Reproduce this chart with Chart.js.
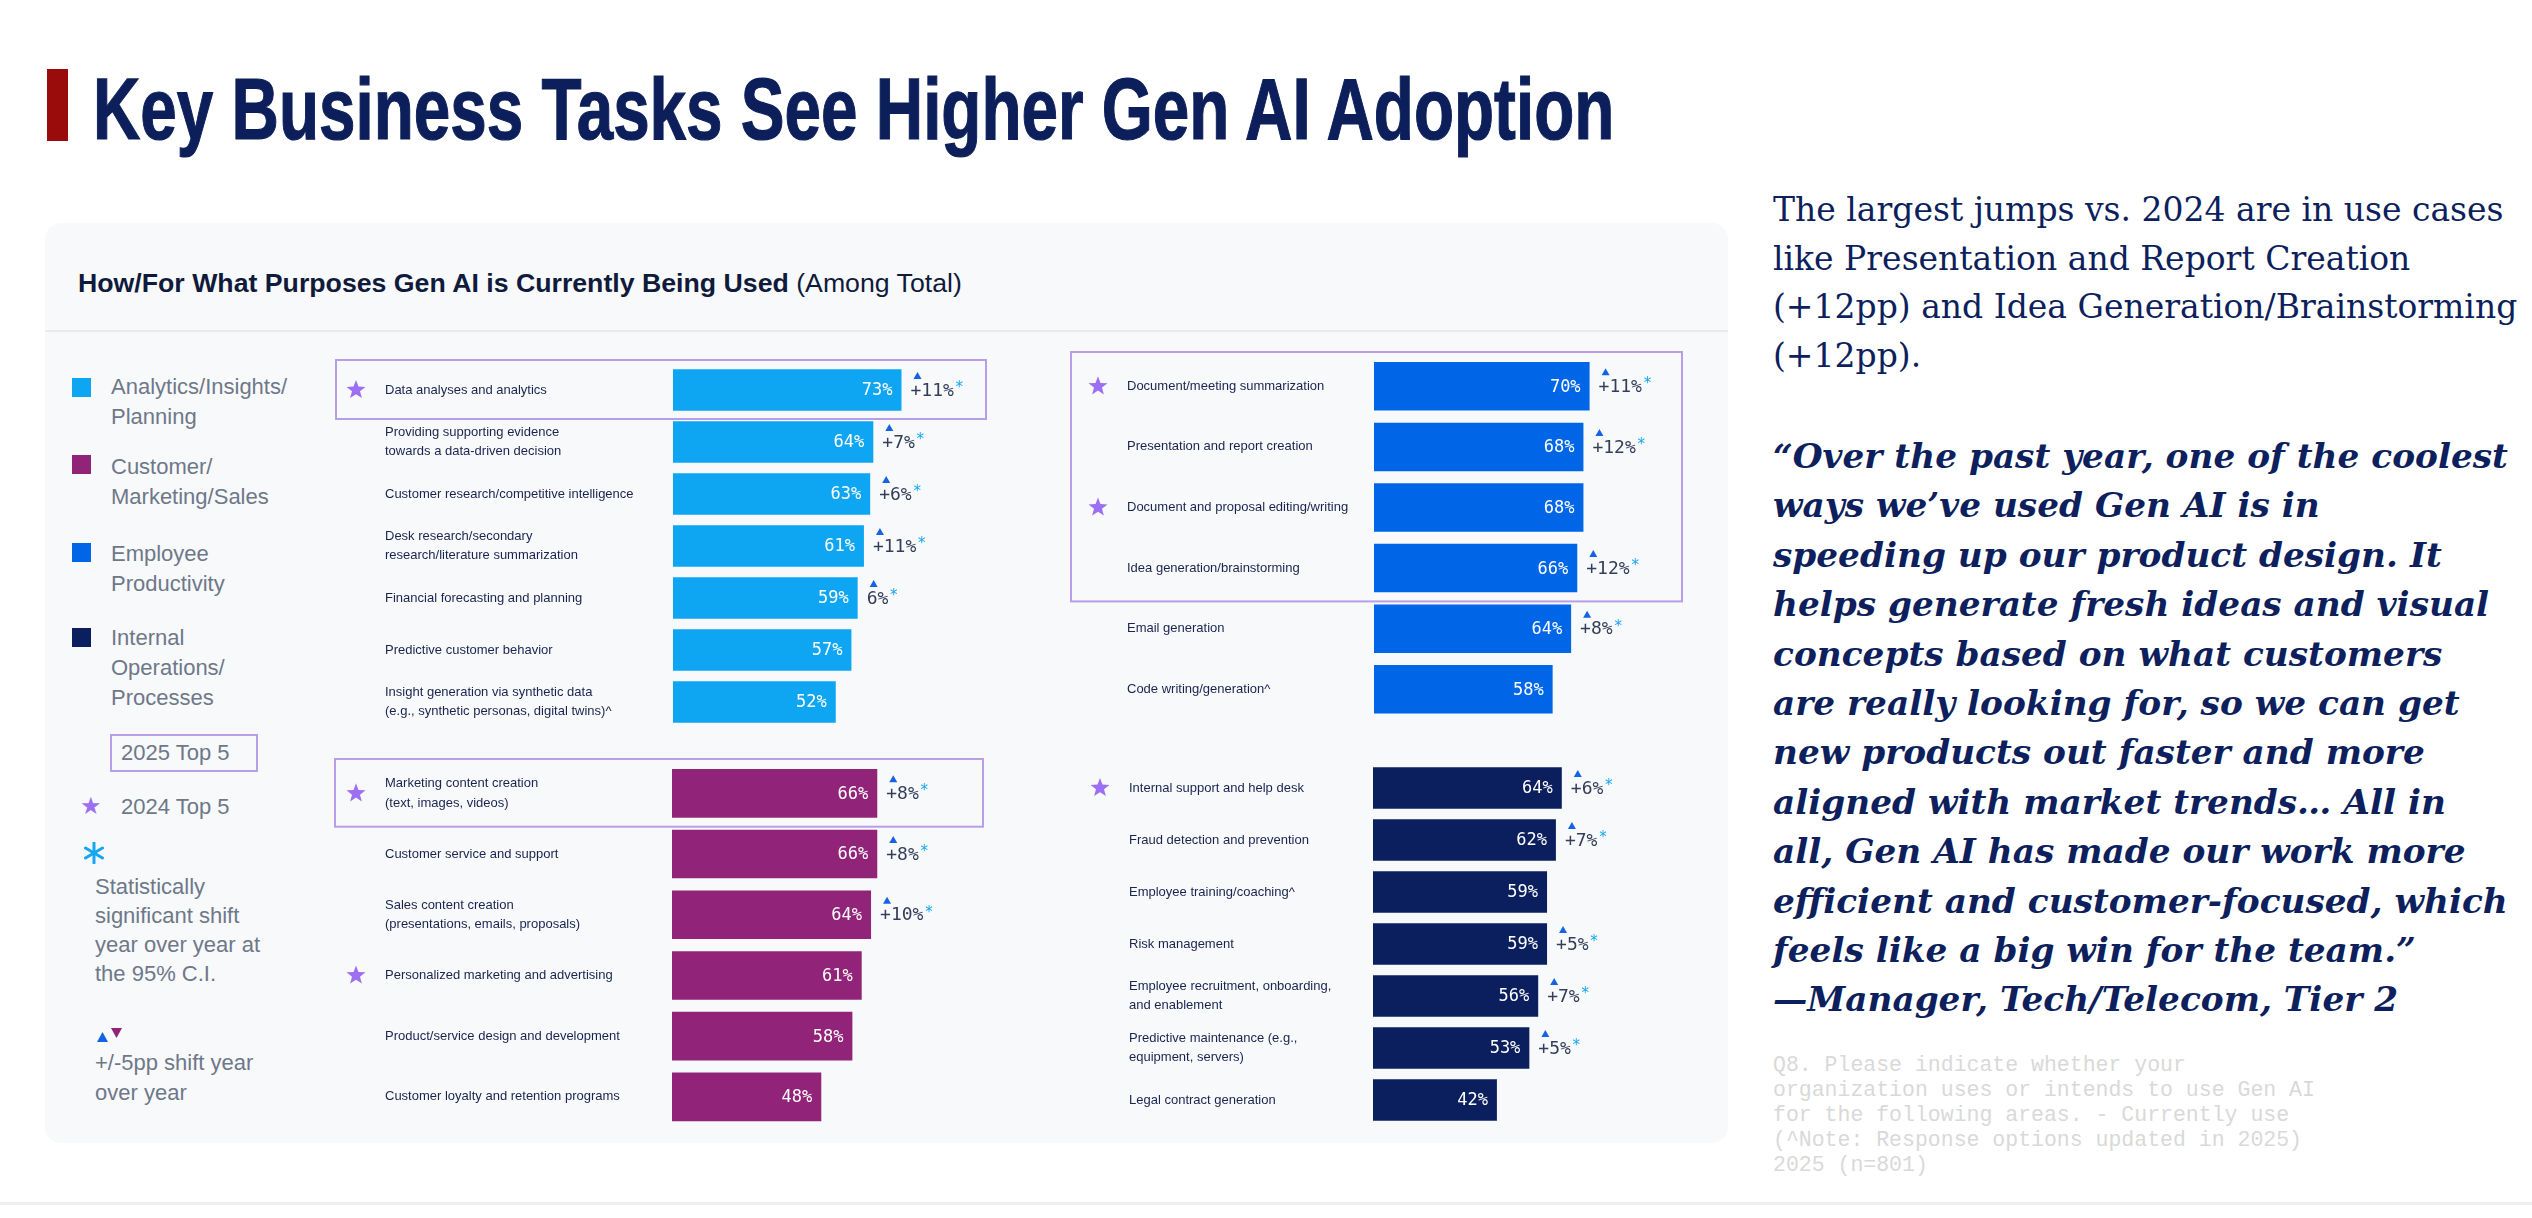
<!DOCTYPE html>
<html lang="en">
<head>
<meta charset="UTF-8">
<title>Key Business Tasks See Higher Gen AI Adoption</title>
<script src="https://cdn.jsdelivr.net/npm/chart.js"></script>
<style>
  html, body { margin: 0; padding: 0; background: #fff; }
  body { width: 2532px; height: 1218px; position: relative; overflow: hidden; font-family: "Liberation Sans", Arial, sans-serif; }
  .abs { position: absolute; }
  #titleBar { left: 47px; top: 69px; width: 21px; height: 72px; background: #9a0c0c; }
  #title { left: 93px; top: 65px; font-size: 87px; line-height: 87px; font-weight: bold; color: #0c1f5b; -webkit-text-stroke: 1.2px #0c1f5b; white-space: nowrap; transform: scaleX(0.754); transform-origin: 0 0; }
  #card { left: 45px; top: 223px; width: 1683px; height: 920px; background: #f8f9fb; border-radius: 16px; }
  #cardLine { left: 45px; top: 330px; width: 1683px; height: 2px; background: #e9eaee; }
  #cardTitle { left: 78px; top: 268px; font-size: 26.7px; line-height: 30px; color: #101b3b; white-space: nowrap; }
  #cardTitle b { font-weight: bold; }
  .sq { width: 19px; height: 19px; left: 72px; }
  .lg { font-size: 22px; line-height: 30px; color: #6e7889; white-space: nowrap; }
  #topBox { left: 110px; top: 734px; width: 144px; height: 34px; border: 2px solid #b89de9; }
  .chartBox { position: absolute; }
  #para { left: 1773px; top: 186px; font-family: "DejaVu Serif", serif; font-size: 33px; line-height: 48.5px; color: #0d1f5c; white-space: nowrap; }
  #quote { left: 1773px; top: 432px; font-family: "DejaVu Serif", serif; font-size: 34.3px; line-height: 49.4px; font-weight: bold; font-style: italic; color: #0d1f5c; white-space: nowrap; }
  #note { left: 1773px; top: 1053px; font-family: "Liberation Mono", monospace; font-size: 21.5px; line-height: 25px; color: #d9d9d9; white-space: nowrap; }
  #bottomLine { left: 0; top: 1202px; width: 2532px; height: 3px; background: #efefef; }
</style>
</head>
<body>
<div id="titleBar" class="abs"></div>
<div id="title" class="abs">Key Business Tasks See Higher Gen AI Adoption</div>

<div id="card" class="abs"></div>
<div id="cardLine" class="abs"></div>
<div id="cardTitle" class="abs"><b>How/For What Purposes Gen AI is Currently Being Used</b> (Among Total)</div>

<div class="abs sq" style="top:378px;background:#0ea5f2"></div>
<div class="abs lg" style="left:111px;top:372px">Analytics/Insights/<br>Planning</div>
<div class="abs sq" style="top:455px;background:#912478"></div>
<div class="abs lg" style="left:111px;top:452px">Customer/<br>Marketing/Sales</div>
<div class="abs sq" style="top:543px;background:#0066e8"></div>
<div class="abs lg" style="left:111px;top:539px">Employee<br>Productivity</div>
<div class="abs sq" style="top:628px;background:#0b1f5e"></div>
<div class="abs lg" style="left:111px;top:623px">Internal<br>Operations/<br>Processes</div>

<div id="topBox" class="abs"></div>
<div class="abs lg" style="left:121px;top:738px">2025 Top 5</div>
<div class="abs" style="left:80px;top:791px;font-family:'DejaVu Sans';font-size:24px;line-height:30px;color:#9d6ff2">★</div>
<div class="abs lg" style="left:121px;top:792px">2024 Top 5</div>
<svg class="abs" style="left:84px;top:842px" width="20" height="22" viewBox="0 0 20 22">
  <g stroke="#16a6f2" stroke-width="3" stroke-linecap="round">
    <line x1="10" y1="1" x2="10" y2="21"/>
    <line x1="1.5" y1="6" x2="18.5" y2="16"/>
    <line x1="1.5" y1="16" x2="18.5" y2="6"/>
  </g>
</svg>
<div class="abs lg" style="left:95px;top:872px;line-height:29px">Statistically<br>significant shift<br>year over year at<br>the 95% C.I.</div>
<svg class="abs" style="left:96px;top:1027px" width="28" height="16" viewBox="0 0 28 16">
  <polygon points="1,15 12,15 6.5,5" fill="#1463e6"/>
  <polygon points="15,1 26,1 20.5,11" fill="#912478"/>
</svg>
<div class="abs lg" style="left:95px;top:1048px">+/-5pp shift year<br>over year</div>

<div id="boxA" class="chartBox"><canvas id="chartA"></canvas></div>
<div id="boxB" class="chartBox"><canvas id="chartB"></canvas></div>
<div id="boxC" class="chartBox"><canvas id="chartC"></canvas></div>
<div id="boxD" class="chartBox"><canvas id="chartD"></canvas></div>

<div id="para" class="abs">The largest jumps vs. 2024 are in use cases<br>like Presentation and Report Creation<br>(+12pp) and Idea Generation/Brainstorming<br>(+12pp).</div>
<div id="quote" class="abs">“Over the past year, one of the coolest<br>ways we’ve used Gen AI is in<br>speeding up our product design. It<br>helps generate fresh ideas and visual<br>concepts based on what customers<br>are really looking for, so we can get<br>new products out faster and more<br>aligned with market trends… All in<br>all, Gen AI has made our work more<br>efficient and customer-focused, which<br>feels like a big win for the team.”<br>—Manager, Tech/Telecom, Tier 2</div>
<div id="note" class="abs">Q8. Please indicate whether your<br>organization uses or intends to use Gen AI<br>for the following areas. - Currently use<br>(^Note: Response options updated in 2025)<br>2025 (n=801)</div>
<div id="bottomLine" class="abs"></div>

<script>
// Analytics/Insights/Planning
const analyticsLabels = [
  'Data analyses and analytics',
  ['Providing supporting evidence', 'towards a data-driven decision'],
  'Customer research/competitive intelligence',
  ['Desk research/secondary', 'research/literature summarization'],
  'Financial forecasting and planning',
  'Predictive customer behavior',
  ['Insight generation via synthetic data', '(e.g., synthetic personas, digital twins)^']
];
const analyticsValues = [73, 64, 63, 61, 59, 57, 52];
const analyticsChanges = ['+11%', '+7%', '+6%', '+11%', '6%', '', ''];
const analyticsStars = [true, false, false, false, false, false, false];
const analyticsTop = [true, false, false, false, false, false, false];

// Customer/Marketing/Sales
const customerLabels = [
  ['Marketing content creation', '(text, images, videos)'],
  'Customer service and support',
  ['Sales content creation', '(presentations, emails, proposals)'],
  'Personalized marketing and advertising',
  'Product/service design and development',
  'Customer loyalty and retention programs'
];
const customerValues = [66, 66, 64, 61, 58, 48];
const customerChanges = ['+8%', '+8%', '+10%', '', '', ''];
const customerStars = [true, false, false, true, false, false];
const customerTop = [true, false, false, false, false, false];

// Employee Productivity
const productivityLabels = [
  'Document/meeting summarization',
  'Presentation and report creation',
  'Document and proposal editing/writing',
  'Idea generation/brainstorming',
  'Email generation',
  'Code writing/generation^'
];
const productivityValues = [70, 68, 68, 66, 64, 58];
const productivityChanges = ['+11%', '+12%', '', '+12%', '+8%', ''];
const productivityStars = [true, false, true, false, false, false];
const productivityTop = [true, true, true, true, false, false];

// Internal Operations/Processes
const operationsLabels = [
  'Internal support and help desk',
  'Fraud detection and prevention',
  'Employee training/coaching^',
  'Risk management',
  ['Employee recruitment, onboarding,', 'and enablement'],
  ['Predictive maintenance (e.g.,', 'equipment, servers)'],
  'Legal contract generation'
];
const operationsValues = [64, 62, 59, 59, 56, 53, 42];
const operationsChanges = ['+6%', '+7%', '', '+5%', '+7%', '+5%', ''];
const operationsStars = [true, false, false, false, false, false, false];
const operationsTop = [false, false, false, false, false, false, false];

function drawStar(ctx, cx, cy, R, r) {
  ctx.beginPath();
  for (let i = 0; i < 10; i++) {
    const rad = i % 2 ? r : R;
    const a = -Math.PI / 2 + i * Math.PI / 5;
    ctx.lineTo(cx + rad * Math.cos(a), cy + rad * Math.sin(a));
  }
  ctx.closePath();
  ctx.fill();
}

const annotate = {
  id: 'annotate',
  afterDatasetsDraw(chart, args, opts) {
    const ctx = chart.ctx;
    const area = chart.chartArea;
    const yScale = chart.scales.y;
    const bars = chart.getDatasetMeta(0).data;
    const rowH = (area.bottom - area.top) / bars.length;
    ctx.save();

    // 2025 top 5 frame
    const rows = opts.top.map((t, i) => t ? i : -1).filter(i => i >= 0);
    if (rows.length) {
      const y0 = yScale.getPixelForValue(rows[0]) - rowH / 2 - 4;
      const y1 = yScale.getPixelForValue(rows[rows.length - 1]) + rowH / 2 + 3;
      ctx.strokeStyle = '#b89de9';
      ctx.lineWidth = 2;
      ctx.strokeRect(opts.boxX, y0, area.right - opts.boxX, y1 - y0);
    }

    bars.forEach((bar, i) => {
      // 2024 top 5 star
      if (opts.stars[i]) {
        ctx.fillStyle = '#9d6ff2';
        drawStar(ctx, opts.starX, bar.y, 10, 4.2);
      }
      // value inside bar
      ctx.font = '17px "DejaVu Sans Mono", monospace';
      ctx.textBaseline = 'middle';
      ctx.textAlign = 'right';
      ctx.fillStyle = '#ffffff';
      ctx.fillText(chart.data.datasets[0].data[i] + '%', bar.x - 9, bar.y + 1);
      // year-over-year change
      const ch = opts.changes[i];
      if (ch) {
        const x = bar.x + 9;
        ctx.font = '18px "DejaVu Sans Mono", monospace';
        ctx.textAlign = 'left';
        ctx.fillStyle = '#343e58';
        ctx.fillText(ch, x, bar.y + 1);
        const w = ctx.measureText(ch).width;
        ctx.fillStyle = '#16a6f2';
        ctx.font = '15px "DejaVu Sans Mono", monospace';
        ctx.fillText('*', x + w + 1, bar.y - 2);
        ctx.fillStyle = '#1463e6';
        ctx.beginPath();
        ctx.moveTo(x + 7, bar.y - 18);
        ctx.lineTo(x + 11, bar.y - 11);
        ctx.lineTo(x + 3, bar.y - 11);
        ctx.closePath();
        ctx.fill();
      }
    });
    ctx.restore();
  }
};

function makeChart(id, g, labels, values, changes, stars, top, color) {
  const pad = 40;
  const left = g.boxLeft - 4;
  const width = g.barX + 100 * g.k + 6 - left;
  const height = labels.length * g.rowH + pad * 2;
  const box = document.getElementById('box' + id);
  box.style.left = left + 'px';
  box.style.top = (g.areaTop - pad) + 'px';
  box.style.width = width + 'px';
  box.style.height = height + 'px';
  const axisW = g.barX - g.labelX;

  new Chart(document.getElementById('chart' + id), {
    type: 'bar',
    data: {
      labels: labels,
      datasets: [{
        data: values,
        backgroundColor: color,
        barPercentage: 0.8,
        categoryPercentage: 1.0
      }]
    },
    options: {
      indexAxis: 'y',
      responsive: true,
      maintainAspectRatio: false,
      animation: false,
      layout: { padding: { left: g.labelX - left, right: 6, top: pad, bottom: pad } },
      scales: {
        x: { min: 0, max: 100, display: false },
        y: {
          grid: { display: false, drawTicks: false },
          border: { display: false },
          ticks: {
            autoSkip: false,
            crossAlign: 'far',
            padding: 0,
            color: '#19244f',
            font: { family: '"Liberation Sans", Arial, sans-serif', size: 13, lineHeight: 1.5 }
          },
          afterFit(scale) { scale.width = axisW; }
        }
      },
      plugins: {
        legend: { display: false },
        tooltip: { enabled: false },
        annotate: {
          changes: changes,
          stars: stars,
          top: top,
          boxX: 5,
          starX: g.labelX - 29 - left
        }
      }
    },
    plugins: [annotate]
  });
}

makeChart('A', { boxLeft: 335, labelX: 385, barX: 673, k: 3.13, areaTop: 363.5, rowH: 52 },
  analyticsLabels, analyticsValues, analyticsChanges, analyticsStars, analyticsTop, '#0ea5f2');
makeChart('B', { boxLeft: 334, labelX: 385, barX: 672, k: 3.11, areaTop: 763, rowH: 60.7 },
  customerLabels, customerValues, customerChanges, customerStars, customerTop, '#912478');
makeChart('C', { boxLeft: 1070, labelX: 1127, barX: 1374, k: 3.08, areaTop: 355.7, rowH: 60.6 },
  productivityLabels, productivityValues, productivityChanges, productivityStars, productivityTop, '#0066e8');
makeChart('D', { boxLeft: 1075, labelX: 1129, barX: 1373, k: 2.95, areaTop: 762, rowH: 52 },
  operationsLabels, operationsValues, operationsChanges, operationsStars, operationsTop, '#0b1f5e');
</script>
</body>
</html>
